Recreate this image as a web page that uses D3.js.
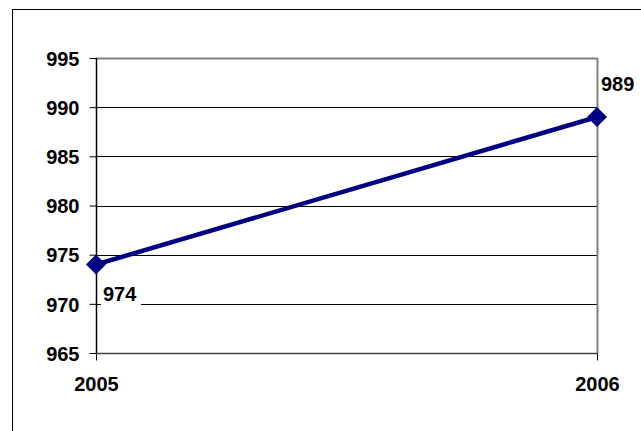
<!DOCTYPE html>
<html>
<head>
<meta charset="utf-8">
<script src="https://cdn.jsdelivr.net/npm/d3@7"></script>
<style>
  body { margin: 0; background: #fff; }
  text { font-family: Arial, "Liberation Sans", sans-serif; font-weight: bold; font-size: 20px; fill: #000; }
</style>
</head>
<body>
<div id="chart"></div>
<script>
var years = ["2005", "2006"];
var values = [974, 989];
var yTicks = [965, 970, 975, 980, 985, 990, 995];

var width = 641, height = 431;

var svg = d3.select('#chart')
  .append('svg')
  .attr('width', width)
  .attr('height', height);

// outer chart area border (runs off the right/bottom edge)
svg.append('rect')
  .attr('x', 12.5).attr('y', 9.5)
  .attr('width', 700).attr('height', 500)
  .style('fill', 'none').style('stroke', '#000').style('stroke-width', 1);

var x = d3.scalePoint().domain(years).range([96, 597]);
var y = d3.scaleLinear().domain([965, 995]).range([353, 58]);

// gridlines
svg.selectAll('.grid').data(yTicks.slice(1, -1))
  .enter().append('line')
  .attr('x1', 96).attr('x2', 597)
  .attr('y1', function(d){ return Math.round(y(d)) + 0.5; })
  .attr('y2', function(d){ return Math.round(y(d)) + 0.5; })
  .style('stroke', '#000').style('stroke-width', 1);

// plot frame
svg.append('line').attr('x1', 96).attr('x2', 598).attr('y1', 58.5).attr('y2', 58.5)
  .style('stroke', '#808080').style('stroke-width', 2);
svg.append('line').attr('x1', 597.5).attr('x2', 597.5).attr('y1', 58).attr('y2', 353)
  .style('stroke', '#808080').style('stroke-width', 2);

// y axis
var yAxis = d3.axisLeft(y).tickValues(yTicks).tickSize(7).tickPadding(9);
var gy = svg.append('g').attr('transform', 'translate(96.5,0)').call(yAxis);
gy.select('.domain').remove();
gy.append('line').attr('x1', 0).attr('x2', 0).attr('y1', 58).attr('y2', 353)
  .style('stroke', '#000').style('stroke-width', 1.5);
gy.selectAll('.tick line').style('stroke', '#000');
gy.selectAll('.tick text').style('font-size', '20px').style('font-family', 'Arial, "Liberation Sans", sans-serif')
  .style('font-weight', 'bold').attr('dy', '0.36em').attr('x', -17);

// x axis
var xAxis = d3.axisBottom(x).tickSize(7).tickPadding(16);
var gx = svg.append('g').attr('transform', 'translate(0,353.5)').call(xAxis);
gx.select('.domain').remove();
gx.append('line').attr('x1', 96).attr('x2', 598).attr('y1', 0).attr('y2', 0)
  .style('stroke', '#404040').style('stroke-width', 1.5);
gx.selectAll('.tick line').style('stroke', '#000');
gx.selectAll('.tick text').style('font-size', '20px').style('font-family', 'Arial, "Liberation Sans", sans-serif')
  .style('font-weight', 'bold');

var pts = years.map(function(d, i){ return {year: d, value: values[i]}; });

// series line
svg.append('path').datum(pts)
  .attr('d', d3.line().x(function(d){ return x(d.year); }).y(function(d){ return y(d.value); }))
  .style('fill', 'none').style('stroke', '#000080').style('stroke-width', 4.5);

// diamond markers
svg.selectAll('.marker').data(pts)
  .enter().append('path')
  .attr('d', 'M0,-10 L10,0 L0,10 L-10,0 Z')
  .attr('transform', function(d){ return 'translate(' + x(d.year) + ',' + y(d.value) + ')'; })
  .style('fill', '#000080');

// data labels
var labelOffsets = [{dx: 7, dy: 36}, {dx: 4, dy: -26}];
var labels = svg.selectAll('.dlabel').data(pts)
  .enter().append('g')
  .attr('transform', function(d, i){
    return 'translate(' + (x(d.year) + labelOffsets[i].dx) + ',' + (y(d.value) + labelOffsets[i].dy) + ')';
  });
labels.append('rect')
  .attr('x', -2).attr('y', -18).attr('width', 40).attr('height', 23)
  .style('fill', '#fff');
labels.append('text').text(function(d){ return d.value; });
</script>
</body>
</html>
